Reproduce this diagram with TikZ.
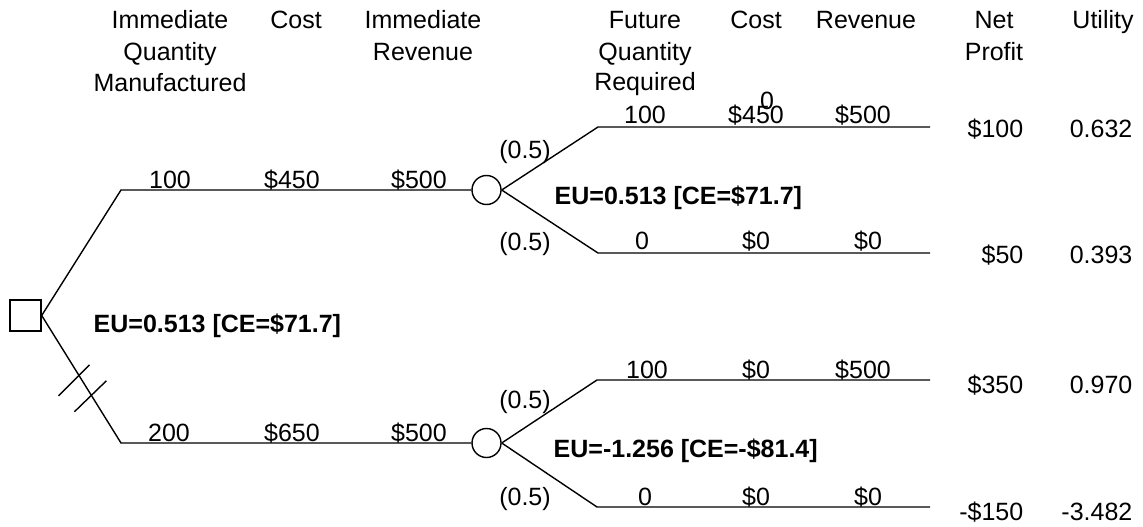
\documentclass[tikz,border=0pt]{standalone}
\usepackage{fontspec}
\setmainfont{Liberation Sans}
\usetikzlibrary{calc}
\begin{document}
\begin{tikzpicture}[x=1pt,y=-1pt,
  line width=1.4pt,
  lbl/.style={inner sep=0pt, anchor=base, font=\fontsize{25}{30}\selectfont},
  lblr/.style={lbl, anchor=base east},
  eu/.style={inner sep=0pt, anchor=base west, font=\fontsize{25}{30}\selectfont\bfseries},
  chance/.style={circle, draw, minimum size=29pt, inner sep=0pt},
  decision/.style={rectangle, draw, minimum size=31pt, inner sep=0pt}]
\useasboundingbox (0,0) rectangle (1143,527);

% column headers
\node[lbl] (h1a) at (170,29) {Immediate};
\node[lbl] (h1b) at (170,61) {Quantity};
\node[lbl] (h1c) at (170,92) {Manufactured};
\node[lbl] (h2a) at (296,29) {Cost};
\node[lbl] (h3a) at (423,29) {Immediate};
\node[lbl] (h3b) at (423,61) {Revenue};
\node[lbl] (h4a) at (645,29) {Future};
\node[lbl] (h4b) at (645,61) {Quantity};
\node[lbl] (h4c) at (645,91) {Required};
\node[lbl] (h5a) at (756,29) {Cost};
\node[lbl] (h6a) at (866,29) {Revenue};
\node[lbl] (h7a) at (994,29) {Net};
\node[lbl] (h7b) at (994,61) {Profit};
\node[lbl] (h8a) at (1103,29) {Utility};

% decision and chance nodes
\node[decision] (d0) at (25.5,315.5) {};
\node[chance] (c1) at (486.5,190) {};
\node[chance] (c2) at (486.5,443) {};

% branch corners and ends
\coordinate (k1) at (121,190);
\coordinate (k2) at (121,443);
\coordinate (k11) at (598,127);
\coordinate (k12) at (598,253);
\coordinate (k21) at (597,380);
\coordinate (k22) at (597,507);
\coordinate (e11) at (930,127);
\coordinate (e12) at (930,253);
\coordinate (e21) at (930,380);
\coordinate (e22) at (930,507);

% branches
\draw (d0.east) -- (k1) -- (c1.west);
\draw (d0.east) -- (k2) -- (c2.west);
\draw (c1.east) -- (k11) -- (e11);
\draw (c1.east) -- (k12) -- (e12);
\draw (c2.east) -- (k21) -- (e21);
\draw (c2.east) -- (k22) -- (e22);

% hatch marks on the rejected alternative
\draw ($(d0.east)!0.47!(k2)$) ++(-20.5,20.5) -- ++(31,-31);
\draw ($(d0.east)!0.626!(k2)$) ++(-17,16.5) -- ++(32,-31);

% first-level branch labels
\node[lbl] (q1) at (170,188) {100};
\node[lbl] (q1c) at (292,188) {\$450};
\node[lbl] (q1r) at (419,188) {\$500};
\node[lbl] (q2) at (169,441) {200};
\node[lbl] (q2c) at (292,441) {\$650};
\node[lbl] (q2r) at (419,441) {\$500};

% expected utilities
\node[eu] (eu0) at (93,332) {EU=0.513 [CE=\$71.7]};
\node[eu] (eu1) at (554,204) {EU=0.513 [CE=\$71.7]};
\node[eu] (eu2) at (553,457) {EU=-1.256 [CE=-\$81.4]};

% probabilities
\node[lbl] (p11) at (525,158) {(0.5)};
\node[lbl] (p12) at (525,250) {(0.5)};
\node[lbl] (p21) at (525,408) {(0.5)};
\node[lbl] (p22) at (525,505) {(0.5)};

% second-level branch labels
\node[lbl] (f11z) at (767,110) {0};
\node[lbl] (f11) at (645,123) {100};
\node[lbl] (f11c) at (756,123) {\$450};
\node[lbl] (f11r) at (863,123) {\$500};
\node[lbl] (f12) at (642,249) {0};
\node[lbl] (f12c) at (756,249) {\$0};
\node[lbl] (f12r) at (868,249) {\$0};
\node[lbl] (f21) at (647,378) {100};
\node[lbl] (f21c) at (756,378) {\$0};
\node[lbl] (f21r) at (863,378) {\$500};
\node[lbl] (f22) at (645,505) {0};
\node[lbl] (f22c) at (756,505) {\$0};
\node[lbl] (f22r) at (868,505) {\$0};

% payoffs
\node[lblr] (n11) at (1024,137) {\$100};
\node[lblr] (u11) at (1133,137) {0.632};
\node[lblr] (n12) at (1024,263) {\$50};
\node[lblr] (u12) at (1133,263) {0.393};
\node[lblr] (n21) at (1024,393) {\$350};
\node[lblr] (u21) at (1133,393) {0.970};
\node[lblr] (n22) at (1024,520) {-\$150};
\node[lblr] (u22) at (1133,520) {-3.482};
\end{tikzpicture}
\end{document}
